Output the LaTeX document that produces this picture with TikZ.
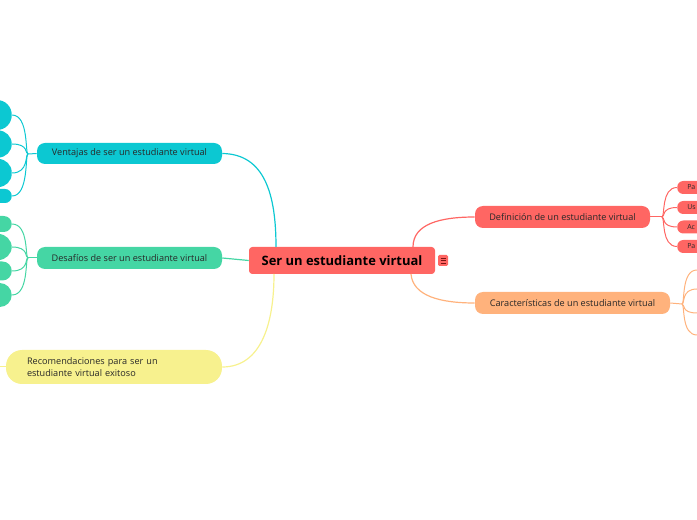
\documentclass[tikz,border=0pt]{standalone}
\usepackage{fontspec}
\setmainfont{Open Sans}
\definecolor{cred}{RGB}{255,102,99}
\definecolor{ccyan}{RGB}{12,200,210}
\definecolor{cgreen}{RGB}{69,214,164}
\definecolor{cyell}{RGB}{247,241,142}
\definecolor{corange}{RGB}{255,178,124}
\definecolor{ctext}{RGB}{40,40,40}
\definecolor{cicon}{RGB}{120,20,20}
\tikzset{
  mb/.style={inner sep=0pt, font=\fontsize{6.85}{8.6}\selectfont, text=ctext, rounded corners=6pt},
  leaf/.style={inner sep=0pt, minimum width=30pt},
  tiny/.style={inner sep=0pt, font=\fontsize{5.2}{6}\selectfont, text=ctext, rounded corners=4.5pt, minimum height=9.75pt, minimum width=40pt, text width=25pt, align=left, inner xsep=6.75pt},
  conn/.style={line width=0.9pt},
  sub/.style={line width=0.75pt},
}
\begin{document}
\begin{tikzpicture}[x=0.75pt,y=-0.75pt]
\useasboundingbox (0,0) rectangle (697,520);
\clip (0,0) rectangle (697,520);

% central
\node[fill=cred, rounded corners=2.5pt, inner sep=0pt, minimum width=186*0.75pt, minimum height=27*0.75pt, font=\bfseries\fontsize{9.7}{11}\selectfont, text=black] (cen) at (342,260.5) {Ser un estudiante virtual};
\node[fill=cred, rounded corners=1pt, inner sep=0pt, minimum width=10*0.75pt, minimum height=11*0.75pt] (ic) at (443,260.5) {};
\draw[cicon, line width=0.6pt] (440.5,258) -- (445.5,258) (440.5,260.5) -- (445.5,260.5) (440.5,263) -- (445.5,263);

% main topics
\node[mb, fill=ccyan, minimum width=185*0.75pt, minimum height=21*0.75pt] (ven) at (129.5,153.5) {Ventajas de ser un estudiante virtual};
\node[mb, fill=cgreen, minimum width=185*0.75pt, minimum height=22*0.75pt] (des) at (129.5,258) {Desaf\'ios de ser un estudiante virtual};
\node[mb, fill=cyell, rounded corners=12pt, minimum width=216*0.75pt, minimum height=34*0.75pt, text width=174*0.75pt, align=left] (rec) at (114,367) {Recomendaciones para ser un\\estudiante virtual exitoso};
\node[mb, fill=cred, minimum width=175*0.75pt, minimum height=22*0.75pt] (def) at (562.5,217) {Definici\'on de un estudiante virtual};
\node[mb, fill=corange, minimum width=195*0.75pt, minimum height=22*0.75pt] (car) at (572.5,303) {Caracter\'isticas de un estudiante virtual};

% anchor points on central node
\coordinate (c1) at (276,247);
\coordinate (c2) at (274,274);
\coordinate (c3) at (413,247);
\coordinate (c4) at (411,274);

\draw[conn, ccyan] (ven.east) .. controls (265,154) and (276,195) .. (c1);
\draw[conn, cgreen] (des.east) -- (cen.west);
\draw[conn, cyell] (rec.east) .. controls (262,367) and (274,322) .. (c2);
\draw[conn, cred] (c3) .. controls (413,224) and (440,217) .. (def.west);
\draw[conn, corange] (c4) .. controls (413,296) and (440,303) .. (car.west);

% recomendaciones tail
\coordinate (rl) at (-4,367);
\draw[sub, cyell] (rec.west) -- (rl);

% Ventajas children
\node[leaf, fill=ccyan, rounded corners=11pt, minimum height=30*0.75pt, anchor=east] (v1) at (12,115) {};
\node[leaf, fill=ccyan, rounded corners=10pt, minimum height=27*0.75pt, anchor=east] (v2) at (12,144) {};
\node[leaf, fill=ccyan, rounded corners=10pt, minimum height=28*0.75pt, anchor=east] (v3) at (12,173) {};
\node[leaf, fill=ccyan, rounded corners=5pt, minimum height=14*0.75pt, anchor=east] (v4) at (12,196) {};
\coordinate (hv) at (28,154);
\draw[sub, ccyan] (ven.west) -- (hv);
\foreach \n/\y in {v1/115, v2/144, v3/173, v4/196}
  \draw[sub, ccyan] (hv) .. controls (25,154) and (29,\y) .. (\n.east);

% Desafios children
\node[leaf, fill=cgreen, rounded corners=6pt, minimum height=16*0.75pt, anchor=east] (d1) at (12,224) {};
\node[leaf, fill=cgreen, rounded corners=10pt, minimum height=26*0.75pt, anchor=east] (d2) at (12,247) {};
\node[leaf, fill=cgreen, rounded corners=7pt, minimum height=19*0.75pt, anchor=east] (d3) at (12,271) {};
\node[leaf, fill=cgreen, rounded corners=9pt, minimum height=24*0.75pt, anchor=east] (d4) at (12,295) {};
\coordinate (hd) at (28,258);
\draw[sub, cgreen] (des.west) -- (hd);
\foreach \n/\y in {d1/224, d2/247, d3/271, d4/295}
  \draw[sub, cgreen] (hd) .. controls (25,258) and (29,\y) .. (\n.east);

% Definicion children
\node[tiny, fill=cred, anchor=west] (p1) at (677,187.5) {Pa};
\node[tiny, fill=cred, anchor=west] (p2) at (677,207.5) {Us};
\node[tiny, fill=cred, anchor=west] (p3) at (677,227) {Ac};
\node[tiny, fill=cred, anchor=west] (p4) at (677,246.5) {Pa};
\coordinate (hp) at (662,217);
\draw[sub, cred] (def.east) -- (hp);
\foreach \n/\y in {p1/187.5, p2/207.5, p3/227, p4/246.5}
  \draw[sub, cred] (hp) .. controls (665,217) and (661,\y) .. (\n.west);

% Caracteristicas children (off canvas)
\node[leaf, fill=corange, minimum height=10pt, anchor=west] (k1) at (697,270) {};
\node[leaf, fill=corange, minimum height=10pt, anchor=west] (k2) at (697,289) {};
\node[leaf, fill=corange, minimum height=10pt, anchor=west] (k3) at (697,313) {};
\node[leaf, fill=corange, minimum height=10pt, anchor=west] (k4) at (697,335) {};
\coordinate (hk) at (682,304);
\draw[sub, corange] (car.east) -- (hk);
\foreach \n/\y in {k1/270, k2/289, k3/313, k4/335}
  \draw[sub, corange] (hk) .. controls (685,304) and (681,\y) .. (\n.west);
\end{tikzpicture}
\end{document}
